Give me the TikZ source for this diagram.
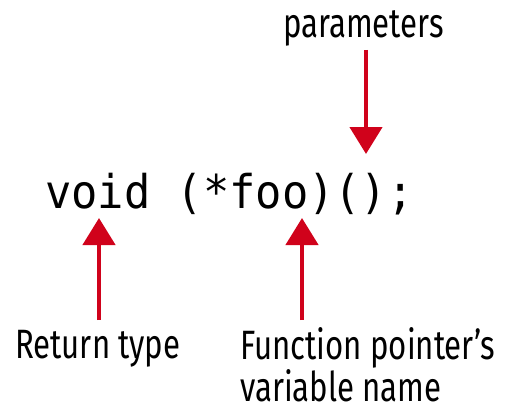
\documentclass[tikz,border=0pt]{standalone}
\usepackage{fontspec}
\usetikzlibrary{arrows.meta}
\newfontfamily\codefont[FakeStretch=0.94]{DejaVu Sans Mono}
\newfontfamily\labelfont[FakeStretch=0.76]{Fira Sans}
\definecolor{arrowred}{RGB}{208,2,27}
\tikzset{
  lbl/.style={inner sep=0pt, font=\labelfont\fontsize{41}{45}\selectfont, text=black},
  code/.style={inner sep=0pt, font=\codefont\fontsize{46.5}{50}\selectfont, text=black},
  arr/.style={draw=arrowred, line width=4.5pt, -{Triangle[length=27pt,width=32pt]}}
}
\begin{document}
\begin{tikzpicture}[x=1pt,y=-1pt]
\useasboundingbox (0,0) rectangle (505,412);
\node[lbl, anchor=base west] (params) at (283,37.5) {parameters};
\node[code, anchor=base west] (code) at (45,208) {void (*foo)();};
\node[lbl, anchor=base west] (ret) at (15,358) {Return type};
\node[lbl, anchor=base west] (fp) at (240,359) {Function pointer’s};
\node[lbl, anchor=base west] (var) at (240,401.5) {variable name};
\coordinate (ptail) at (366,50);
\coordinate (ptip) at (366,154);
\coordinate (rtail) at (99,320);
\coordinate (rtip) at (99,218);
\coordinate (ftail) at (302,320);
\coordinate (ftip) at (302,218);
\draw[arr] (ptail) -- (ptip);
\draw[arr] (rtail) -- (rtip);
\draw[arr] (ftail) -- (ftip);
\end{tikzpicture}
\end{document}
